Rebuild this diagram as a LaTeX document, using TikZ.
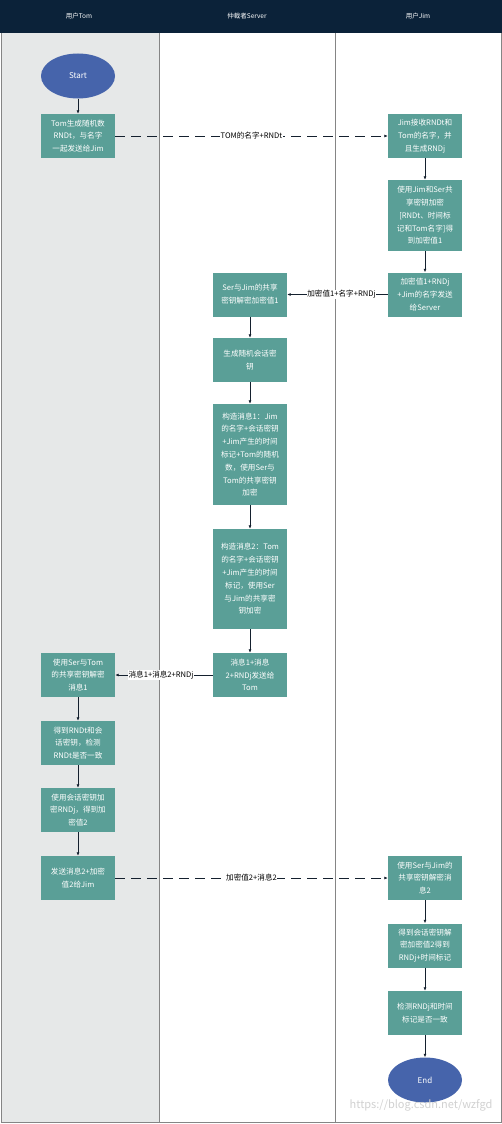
\documentclass[tikz,border=0pt]{standalone}
\usepackage{fontspec}
\setmainfont{Noto Sans CJK SC}
\usetikzlibrary{arrows.meta,shapes.geometric}
\definecolor{hdr}{HTML}{0B2239}
\definecolor{lanegray}{HTML}{E6E8E8}
\definecolor{boxfill}{HTML}{5A9F97}
\definecolor{ellfill}{HTML}{4664AB}
\definecolor{lineclr}{HTML}{14202E}
\definecolor{border}{HTML}{858585}
\tikzset{
  stepbox/.style={rectangle, fill=boxfill, text=white, minimum width=74pt, minimum height=44pt,
    text width=70pt, align=center, inner sep=0pt,
    font=\fontsize{7.6}{12.8}\selectfont},
  term/.style={ellipse, fill=ellfill, text=white, minimum width=74pt, minimum height=45pt,
    inner sep=0pt, font=\fontsize{8}{10}\selectfont},
  flow/.style={draw=lineclr, line width=0.8pt, -{Latex[length=3.5pt,width=3pt]}},
  msg/.style={flow, dash pattern=on 10pt off 6pt},
  elabel/.style={fill=white, inner sep=0.5pt, text=black, font=\fontsize{7.6}{9}\selectfont},
  hlabel/.style={text=white, font=\fontsize{6.5}{8}\selectfont},
}
\begin{document}
\begin{tikzpicture}[x=1pt,y=-1pt]
\useasboundingbox (0,0) rectangle (502,1124);
% lanes
\fill[white] (0,0) rectangle (502,1124);
\fill[lanegray] (1,33) rectangle (159,1122);
\fill[hdr] (0,0) rectangle (502,33);
\draw[border, line width=0.8pt] (1,33) -- (1,1122) -- (501,1122) -- (501,33);
\draw[border, line width=0.8pt] (159,33) -- (159,1122);
\draw[border, line width=0.8pt] (335,33) -- (335,1122);
\node[hlabel] (h1) at (79,16) {用户Tom};
\node[hlabel] (h2) at (247,16) {仲裁者Server};
\node[hlabel] (h3) at (418,16) {用户Jim};

% Tom lane
\node[term] (start) at (78,76) {Start};
\node[stepbox] (t1) at (78,136) {Tom生成随机数\\RNDt，与名字\\一起发送给Jim};
\node[stepbox] (t2) at (78,675) {使用Ser与Tom\\的共享密钥解密\\消息1};
\node[stepbox] (t3) at (78,743) {得到RNDt和会\\话密钥，检测\\RNDt是否一致};
\node[stepbox] (t4) at (78,810) {使用会话密钥加\\密RNDj，得到加\\密值2};
\node[stepbox] (t5) at (78,878) {发送消息2+加密\\值2给Jim};

% Jim lane
\node[stepbox] (j1) at (425,136) {Jim接收RNDt和\\Tom的名字，并\\且生成RNDj};
\node[stepbox, minimum height=71pt] (j2) at (425,215.5) {使用Jim和Ser共\\享密钥加密\\{[RNDt、时间标}\\记和Tom名字]得\\到加密值1};
\node[stepbox] (j3) at (425,294.5) {加密值1+RNDj\\+Jim的名字发送\\给Server};
\node[stepbox] (j4) at (425,878) {使用Ser与Jim的\\共享密钥解密消\\息2};
\node[stepbox] (j5) at (425,945.5) {得到会话密钥解\\密加密值2得到\\RNDj+时间标记};
\node[stepbox] (j6) at (425,1013) {检测RNDj和时间\\标记是否一致};
\node[term] (end) at (425,1080) {End};

% Server lane
\node[stepbox] (s1) at (250,294.5) {Ser与Jim的共享\\密钥解密加密值1};
\node[stepbox] (s2) at (250,360) {生成随机会话密\\钥};
\node[stepbox, minimum height=101pt] (s3) at (250,454.5) {构造消息1：Jim\\的名字+会话密钥\\+Jim产生的时间\\标记+Tom的随机\\数，使用Ser与\\Tom的共享密钥\\加密};
\node[stepbox, minimum height=100pt] (s4) at (250,579) {构造消息2：Tom\\的名字+会话密钥\\+Jim产生的时间\\标记，使用Ser\\与Jim的共享密\\钥加密};
\node[stepbox] (s5) at (250,675) {消息1+消息\\2+RNDj发送给\\Tom};

% connectors
\draw[flow] (start) -- (t1);
\draw[msg] (t1) -- node[elabel] (l1) {TOM的名字+RNDt} (j1);
\draw[flow] (j1) -- (j2);
\draw[flow] (j2) -- (j3);
\draw[flow] (j3) -- node[elabel, pos=0.46] (l2) {加密值1+名字+RNDj} (s1);
\draw[flow] (s1) -- (s2);
\draw[flow] (s2) -- (s3);
\draw[flow] (s3) -- (s4);
\draw[flow] (s4) -- (s5);
\draw[flow] (s5) -- node[elabel, pos=0.53] (l3) {消息1+消息2+RNDj} (t2);
\draw[flow] (t2) -- (t3);
\draw[flow] (t3) -- (t4);
\draw[flow] (t4) -- (t5);
\draw[msg] (t5) -- node[elabel] (l4) {加密值2+消息2} (j4);
\draw[flow] (j4) -- (j5);
\draw[flow] (j5) -- (j6);
\draw[flow] (j6) -- (end);

% watermark
\node[text=black!18, font=\fontsize{11}{12}\selectfont, anchor=east] (wm) at (496,1105) {https://blog.csdn.net/wzfgd};
\end{tikzpicture}
\end{document}
